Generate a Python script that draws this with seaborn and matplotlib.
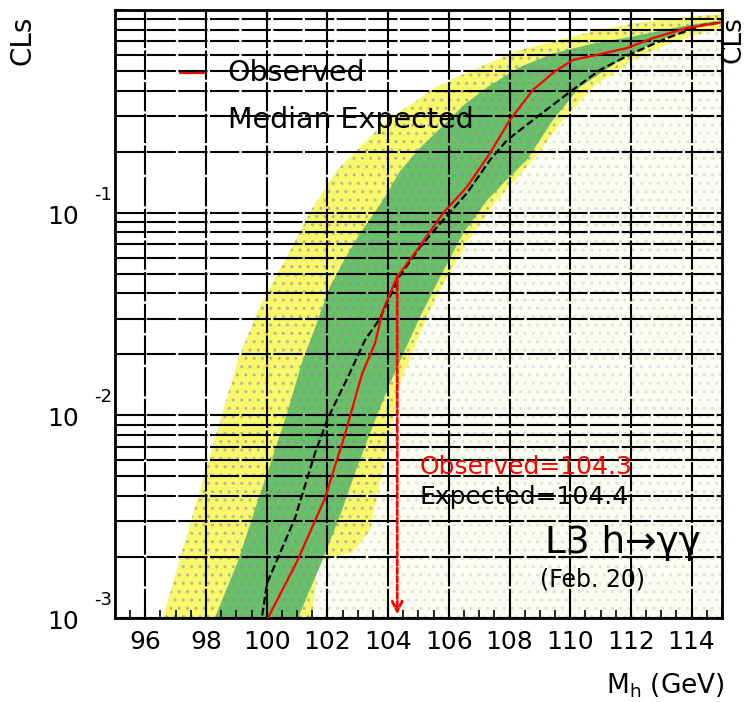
import matplotlib
matplotlib.use("Agg")
import matplotlib.pyplot as plt
import seaborn as sns
import pandas as pd
from matplotlib.ticker import MultipleLocator, LogLocator, NullFormatter

# observed and median expected CLs vs Higgs mass
obs_mass = [99.9, 100.04, 101.0, 101.92, 102.55, 103.14, 103.57, 103.83, 104.29,
            104.95, 105.81, 106.6, 107.36, 108.01, 108.77, 109.43, 110.09, 110.88,
            111.87, 112.73, 113.85, 114.93]
obs_cls = [0.0008, 0.001, 0.0019, 0.0039, 0.0078, 0.016, 0.0227, 0.033, 0.048,
           0.0653, 0.0994, 0.134, 0.197, 0.286, 0.403, 0.489, 0.567, 0.60,
           0.649, 0.727, 0.815, 0.865]

exp_mass = [99.78, 99.84, 100.01, 100.5, 100.93, 101.3, 101.59, 102.02, 102.68,
            103.24, 103.73, 104.0, 104.39, 105.05, 105.81, 106.6, 107.36, 107.92,
            108.9, 109.99, 110.98, 112.07, 113.19, 114.37, 114.93]
exp_cls = [0.0008, 0.001, 0.00148, 0.0022, 0.0031, 0.0047, 0.0065, 0.0097, 0.0155,
           0.0235, 0.030, 0.037, 0.049, 0.0676, 0.0918, 0.125, 0.182, 0.228,
           0.296, 0.394, 0.506, 0.613, 0.727, 0.843, 0.865]

# +-1 sigma band
g_up_mass = [98.1, 98.29, 99.05, 99.71, 100.27, 100.7, 101.15, 101.59, 102.08,
             102.6, 103.07, 103.83, 104.39, 105.0, 105.71, 106.5, 107.26, 108.3,
             109.43, 110.7, 112.07, 113.85, 115.0]
g_up_cls = [0.0008, 0.001, 0.0019, 0.0038, 0.0067, 0.0106, 0.018, 0.027, 0.043,
            0.060, 0.079, 0.115, 0.16, 0.205, 0.26, 0.34, 0.415, 0.52,
            0.61, 0.68, 0.74, 0.84, 0.89]
g_lo_mass = [100.8, 101.03, 101.82, 102.48, 102.91, 103.45, 104.06, 105.05, 105.71,
             106.47, 107.26, 107.9, 108.57, 109.43, 110.32, 111.64, 112.73, 113.85,
             115.0]
g_lo_cls = [0.0008, 0.001, 0.0019, 0.0034, 0.0052, 0.0085, 0.0144, 0.0305, 0.048,
            0.079, 0.115, 0.145, 0.182, 0.286, 0.417, 0.566, 0.687, 0.797, 0.87]

# +-2 sigma band
y_up_mass = [96.4, 96.58, 97.31, 97.97, 98.53, 99.05, 99.71, 100.25, 100.77, 101.52,
             102.31, 103.3, 104.0, 104.82, 105.5, 106.27, 107.03, 108.34, 109.99,
             111.0, 112.2, 113.85, 115.0]
y_up_cls = [0.0008, 0.001, 0.0024, 0.0052, 0.0102, 0.0187, 0.033, 0.047, 0.065, 0.106,
            0.162, 0.228, 0.29, 0.347, 0.41, 0.467, 0.523, 0.634, 0.736,
            0.80, 0.863, 0.924, 0.955]
y_lo_mass = [101.45, 101.49, 101.69, 102.81, 103.4, 103.96, 104.39, 105.28, 105.94,
             106.8, 107.59, 108.77, 109.76, 110.75, 112.07, 113.29, 114.37, 115.0]
y_lo_cls = [0.0008, 0.001, 0.0019, 0.0021, 0.0027, 0.0067, 0.0144, 0.0305, 0.048,
            0.079, 0.115, 0.182, 0.286, 0.417, 0.566, 0.687, 0.77, 0.815]

obs_limit = 104.3
exp_limit = 104.4

sns.set_style("white")
plt.rcParams['font.family'] = ['DejaVu Sans']
plt.rcParams['text.color'] = 'black'
plt.rcParams['xtick.color'] = 'black'
plt.rcParams['ytick.color'] = 'black'
plt.rcParams['hatch.linewidth'] = 1.0

fig = plt.figure(figsize=(7.48, 7.02), dpi=100)
ax = fig.add_axes([0.1537, 0.1197, 0.8115, 0.8661])

# bands
bg_x = y_lo_mass + [115.5, 115.5]
bg_y = y_lo_cls + [0.0008, 0.0008]
ax.fill(bg_x, bg_y, facecolor='#fcfdf2', edgecolor='#d2eac8', hatch='..', lw=0, zorder=1)
ax.fill(y_up_mass + y_lo_mass[::-1], y_up_cls + y_lo_cls[::-1],
        facecolor='#f8f86c', edgecolor='#b8b890', hatch='..', lw=0, zorder=1.1)
ax.fill(g_up_mass + g_lo_mass[::-1], g_up_cls + g_lo_cls[::-1],
        facecolor='#68c068', edgecolor='#8a9a8a', hatch='..', lw=0, zorder=1.2)

obs = pd.DataFrame({"mass": obs_mass, "cls": obs_cls})
exp = pd.DataFrame({"mass": exp_mass, "cls": exp_cls})
sns.lineplot(data=exp, x="mass", y="cls", ax=ax, color='black', lw=1.6,
             linestyle=(0, (3.5, 1.5)), zorder=4)
sns.lineplot(data=obs, x="mass", y="cls", ax=ax, color='red', lw=1.6, zorder=4.1)

# limit arrow
ax.annotate('', xy=(obs_limit, 0.00101), xytext=(obs_limit, 0.05),
            arrowprops=dict(arrowstyle='->', color='red', lw=2, linestyle=(0, (2, 1)),
                            mutation_scale=18), zorder=4.2)

ax.set_yscale('log')
ax.set_xlim(95, 115)
ax.set_ylim(1e-3, 1)

ax.xaxis.set_major_locator(MultipleLocator(2))
ax.xaxis.set_minor_locator(MultipleLocator(0.5))
ax.yaxis.set_major_locator(LogLocator(base=10, numticks=10))
ax.yaxis.set_minor_locator(LogLocator(base=10, subs=range(2, 10), numticks=20))
ax.yaxis.set_major_formatter(NullFormatter())
ax.yaxis.set_minor_formatter(NullFormatter())

ax.set_axisbelow(False)
grid_style = dict(color='black', lw=1.5, linestyle=(0, (14, 1.2)))
ax.grid(True, which='major', axis='x', **grid_style)
ax.grid(True, which='both', axis='y', **grid_style)

ax.tick_params(axis='x', which='major', direction='in', length=7, width=1.5,
               top=True, bottom=True, labelsize=18, pad=9)
ax.tick_params(axis='x', which='minor', direction='in', length=6, width=1.2,
               top=False, bottom=True)
ax.tick_params(axis='y', which='both', direction='in', length=7, width=1.2,
               left=True, right=False)
for s in ax.spines.values():
    s.set_linewidth(2)
    s.set_color('black')
ax.set_xlabel('')
ax.set_ylabel('')

# y tick labels: "10" with raised exponent
ytr = ax.get_yaxis_transform()
for v, e in [(1e-1, '-1'), (1e-2, '-2'), (1e-3, '-3')]:
    ax.annotate('10', xy=(-0.0857, v), xycoords=ytr, xytext=(0, -3),
                textcoords='offset points', ha='center', va='center',
                fontsize=18, annotation_clip=False)
    ax.annotate(e, xy=(-0.02, v), xycoords=ytr, xytext=(0, 13),
                textcoords='offset points', ha='center', va='center',
                fontsize=13, annotation_clip=False)

fig.text(22 / 748, 1 - 40 / 702, 'CLs', rotation=90, ha='center', va='center', fontsize=20)
fig.text(747 / 748, 1 - 40 / 702, 'CLs', rotation=90, ha='right', va='center', fontsize=19)
fig.text(725 / 748, 1 - 686 / 702, r'M$_\mathregular{h}$ (GeV)', ha='right', va='center',
         fontsize=19)

# legend drawn under the grid like the original
ax.plot([0.107, 0.150], [0.896, 0.896], color='red', lw=1.6, transform=ax.transAxes,
        zorder=2)
ax.text(0.186, 0.896, 'Observed', transform=ax.transAxes, ha='left', va='center',
        fontsize=20.5, zorder=2)
ax.text(0.186, 0.819, 'Median Expected', transform=ax.transAxes, ha='left', va='center',
        fontsize=20.5, zorder=2)

ax.text(0.502, 0.248, f'Observed={obs_limit}', transform=ax.transAxes, color='red',
        ha='left', va='center', fontsize=18, zorder=5)
ax.text(0.502, 0.199, f'Expected={exp_limit}', transform=ax.transAxes, color='black',
        ha='left', va='center', fontsize=18, zorder=5)
ax.text(0.708, 0.123, 'L3 h\u2192\u03b3\u03b3', transform=ax.transAxes, ha='left',
        va='center', fontsize=27, zorder=5)
ax.text(0.70, 0.0625, '(Feb. 20)', transform=ax.transAxes, ha='left', va='center',
        fontsize=17, zorder=5)

fig.savefig('out.png', dpi=100)
